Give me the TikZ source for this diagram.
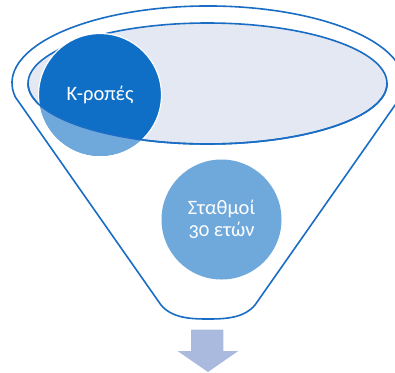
\documentclass[tikz,border=0pt]{standalone}
\usepackage{fontspec}
\setmainfont{Carlito}[Numbers=OldStyle]
\usetikzlibrary{calc}
\definecolor{edgeblue}{HTML}{1A6DC4}
\definecolor{deepblue}{HTML}{0F6FC6}
\definecolor{softblue}{HTML}{6FA9DC}
\definecolor{mistfill}{HTML}{E3E8F3}
\definecolor{arrowfill}{HTML}{AABADF}
\tikzset{
  outline/.style={draw=edgeblue, line width=1.6pt},
  bubble/.style={circle, minimum size=123pt, inner sep=0pt, align=center,
    text=white, font=\fontsize{20.5}{22}\selectfont},
}
\begin{document}
\begin{tikzpicture}[x=1pt, y=-1pt]
  \useasboundingbox (0,0) rectangle (395,372);
  % funnel body: top rim arc, sides and rounded bottom
  \coordinate (rim) at (208,83);
  \coordinate (lefttop) at ($(rim)+(-192.7,14.0)$);
  \coordinate (leftbot) at (161,305);
  \coordinate (rightbot) at (255,305);
  \coordinate (bottom) at (208,319);
  \filldraw[outline, fill=white, line join=round]
    (leftbot) -- (lefttop)
    arc[start angle=169.5, end angle=370.5, x radius=196, y radius=77]
    -- (rightbot)
    .. controls (244,318) and (226,319) .. (bottom)
    .. controls (190,319) and (172,318) .. (leftbot) -- cycle;
  % inner rim of the funnel
  \coordinate (inner) at (207.5,83.5);
  \coordinate (innerleft) at (28,83.5);
  \filldraw[outline, fill=mistfill] (inner) ellipse[x radius=179.5, y radius=60.5];
  % first circle, partly sunk into the funnel
  \node[bubble, fill=deepblue, draw=white, line width=1.2pt] (kropes) at (100,95) {};
  \begin{scope}
    \clip (kropes.center) circle[radius=61];
    \fill[softblue] (0,83.5) -- (innerleft)
      arc[start angle=180, end angle=0, x radius=179.5, y radius=60.5]
      -- (395,83.5) -- (395,372) -- (0,372) -- cycle;
  \end{scope}
  \draw[outline] (innerleft)
    arc[start angle=180, end angle=0, x radius=179.5, y radius=60.5];
  \node[bubble] at (kropes) {Κ-ροπές};
  % second circle inside the funnel
  \node[bubble, fill=softblue, minimum size=120pt] (stathmoi) at (221.5,219.5)
    {Σταθμοί\\30 ετών};
  % outlet arrow
  \fill[arrowfill] (191,329.5) -- (223.3,329.5) -- (223.3,351) -- (238.3,351)
    -- (208,372) -- (177.5,351) -- (191,351) -- cycle;
\end{tikzpicture}
\end{document}
